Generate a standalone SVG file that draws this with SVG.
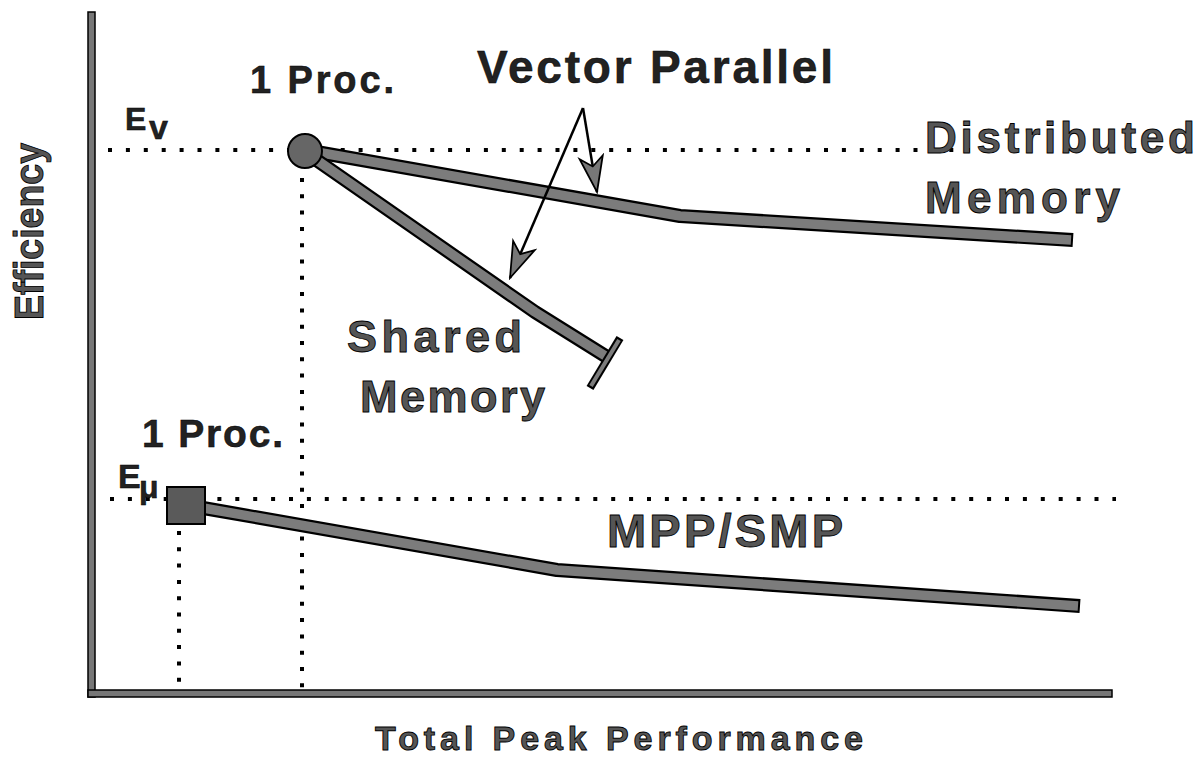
<svg xmlns="http://www.w3.org/2000/svg" width="1202" height="759" viewBox="0 0 1202 759">
<style>
.axis{fill:#777;stroke:#000;stroke-width:1.5}
.dotH{stroke:#000;stroke-width:4;stroke-dasharray:4 13.9;fill:none}
.dotV{stroke:#000;stroke-width:4;stroke-dasharray:4 12.3;fill:none}
.under{fill:none;stroke:#000;stroke-width:14;stroke-linejoin:round}
.over{fill:none;stroke:#7c7c7c;stroke-width:9.5;stroke-linejoin:round}
.ptr{fill:none;stroke:#000;stroke-width:2.5}
.lbl{font-family:"Liberation Sans",Arial,sans-serif;font-weight:bold;fill:#555;stroke:#000;stroke-width:0.9}
.dark{font-family:"Liberation Sans",Arial,sans-serif;font-weight:bold;fill:#222;stroke:#000;stroke-width:0.5}
</style>
<defs>
<marker id="barb" markerUnits="userSpaceOnUse" markerWidth="40" markerHeight="30" viewBox="-32 -12 34 24" refX="0" refY="0" orient="auto">
<path d="M0,0 L-30,-10 L-22,0 L-30,10 Z" fill="#777" stroke="#000" stroke-width="1.5"/>
</marker>
</defs>
<rect width="1202" height="759" fill="#fff"/>
<g id="axes">
<rect class="axis" x="88" y="12" width="7" height="685"/>
<rect class="axis" x="88" y="690" width="1024" height="7"/>
</g>
<g id="guides">
<line class="dotH" x1="108" y1="150" x2="970" y2="150"/>
<line class="dotH" x1="110" y1="499" x2="1116" y2="499"/>
<line class="dotV" x1="302" y1="178" x2="302" y2="690"/>
<line class="dotV" x1="179" y1="531" x2="179" y2="684"/>
</g>
<g id="connectors">
<path class="under" d="M305,150 L680,216 L1073,240"/>
<path class="over" d="M305,150 L680,216 L1071,240"/>
<path class="under" d="M305,152 L535,312 L607,357"/>
<path class="over" d="M305,152 L535,312 L607,357"/>
<line x1="620" y1="338" x2="590" y2="388" stroke="#000" stroke-width="8"/>
<line x1="619" y1="340" x2="591" y2="386" stroke="#7c7c7c" stroke-width="4"/>
<path class="under" d="M186,505 L557,570 L1080,606"/>
<path class="over" d="M186,505 L557,570 L1078,606"/>
<line class="ptr" x1="583" y1="108" x2="597" y2="192" marker-end="url(#barb)"/>
<line class="ptr" x1="583" y1="108" x2="510" y2="278" marker-end="url(#barb)"/>
</g>
<g id="node-vector-1proc">
<circle cx="305" cy="151" r="17" fill="#666" stroke="#000" stroke-width="2"/>
</g>
<g id="node-micro-1proc">
<rect x="167" y="487" width="38" height="37" fill="#5a5a5a" stroke="#000" stroke-width="2"/>
</g>
<g id="labels">
<text class="lbl" transform="translate(43,320) rotate(-90)" font-size="40" textLength="177" lengthAdjust="spacingAndGlyphs">Efficiency</text>
<text class="lbl" x="375" y="750" font-size="34" textLength="488" lengthAdjust="spacing">Total Peak Performance</text>
<text class="dark" x="250" y="93" font-size="38" textLength="144" lengthAdjust="spacing">1 Proc.</text>
<text class="dark" x="125" y="130" font-size="32">E</text>
<text class="dark" x="149" y="139" font-size="34">v</text>
<text class="dark" x="477" y="83" font-size="46" textLength="356" lengthAdjust="spacing">Vector Parallel</text>
<text class="lbl" x="925" y="153" font-size="44" textLength="270" lengthAdjust="spacing">Distributed</text>
<text class="lbl" x="925" y="213" font-size="44" textLength="195" lengthAdjust="spacing">Memory</text>
<text class="lbl" x="347" y="352" font-size="45" textLength="175" lengthAdjust="spacing">Shared</text>
<text class="lbl" x="360" y="412" font-size="45" textLength="185" lengthAdjust="spacing">Memory</text>
<text class="dark" x="142" y="447" font-size="39" textLength="141" lengthAdjust="spacing">1 Proc.</text>
<text class="dark" x="118" y="488" font-size="34">E</text>
<text class="dark" x="139" y="498" font-size="32">μ</text>
<text class="lbl" x="607" y="547" font-size="47" textLength="236" lengthAdjust="spacing">MPP/SMP</text>
</g>
</svg>
